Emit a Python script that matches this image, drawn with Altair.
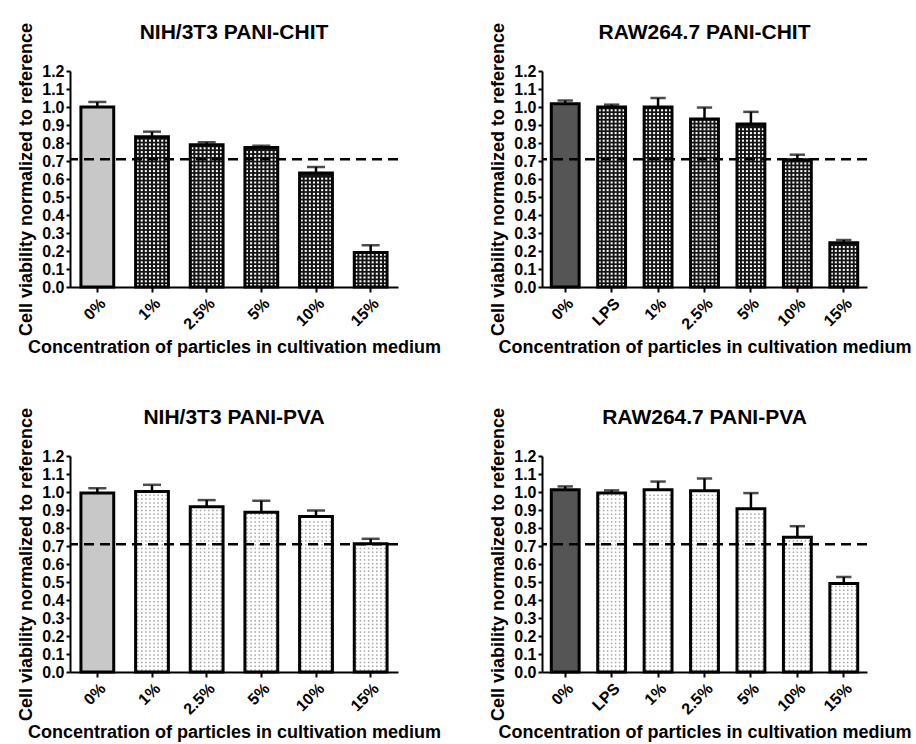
import altair as alt
import pandas as pd

# ---- data: mean viability and upper error (SD) per concentration ----
nih_cats = ["0%", "1%", "2.5%", "5%", "10%", "15%"]
raw_cats = ["0%", "LPS", "1%", "2.5%", "5%", "10%", "15%"]

nih_chit_vals = [1.000, 0.835, 0.790, 0.775, 0.633, 0.192]
nih_chit_err = [0.028, 0.028, 0.014, 0.010, 0.033, 0.040]

raw_chit_vals = [1.018, 1.000, 1.000, 0.934, 0.906, 0.707, 0.246]
raw_chit_err = [0.018, 0.013, 0.050, 0.063, 0.067, 0.028, 0.015]

nih_pva_vals = [0.995, 1.003, 0.918, 0.887, 0.864, 0.712]
nih_pva_err = [0.026, 0.037, 0.037, 0.065, 0.033, 0.028]

raw_pva_vals = [1.012, 0.994, 1.012, 1.007, 0.907, 0.749, 0.491]
raw_pva_err = [0.019, 0.015, 0.046, 0.068, 0.087, 0.061, 0.037]

threshold = 0.71
y_ticks = [round(0.1 * i, 1) for i in range(13)]

FONT = "Liberation Sans"
PAD_INNER = 0.40
HEIGHT = 216

# fill textures: base colour of the bar, colour / size / pitch of the dots
TEXTURES = {
    "checker": dict(base="#141414", dot="#ffffff", size=4.2, pitch=3.8),
    "dots": dict(base="#ffffff", dot="#a6a6a6", size=2.3, pitch=3.8),
}


def texture_frame(cats, vals, texture, width, height):
    """Grid of dots filling every treated (non-0%) bar, in band-index units."""
    t = TEXTURES[texture]
    n = len(cats)
    bw = width / n * (1 - PAD_INNER)
    ncols = max(1, int(bw // t["pitch"]))
    dy = 1.2 / height * t["pitch"]
    rows = []
    for i, (c, v) in enumerate(zip(cats, vals)):
        if c == "0%":
            continue
        k = 0
        while (k + 1) * dy <= v:
            yv = (k + 0.5) * dy
            for j in range(ncols):
                xq = i + PAD_INNER / 2 + (j + 0.5) / ncols * (1 - PAD_INNER)
                rows.append({"xq": xq, "y": yv})
            k += 1
    return pd.DataFrame(rows)


def panel(title, cats, vals, errs, control, texture, width, height=HEIGHT):
    t = TEXTURES[texture]
    n = len(cats)
    bw = width / n * (1 - PAD_INNER)
    df = pd.DataFrame({
        "cat": cats,
        "v": vals,
        "top": [v + e for v, e in zip(vals, errs)],
        "fill": [control if c == "0%" else t["base"] for c in cats],
    })
    tex = texture_frame(cats, vals, texture, width, height)

    xscale = alt.Scale(domain=cats, paddingInner=PAD_INNER, paddingOuter=PAD_INNER / 2)
    yscale = alt.Scale(domain=[0, 1.2], nice=False)
    xaxis = alt.Axis(
        title="Concentration of particles in cultivation medium",
        labelAngle=-45, labelFontSize=16, labelFontWeight="bold", labelFont=FONT,
        labelColor="black", labelPadding=3,
        titleFontSize=18, titleFontWeight="bold", titleFont=FONT, titleColor="black",
        titlePadding=6,
        tickColor="black", tickWidth=2, tickSize=5,
        domainColor="black", domainWidth=2,
    )
    yaxis = alt.Axis(
        title="Cell viability normalized to reference",
        values=y_ticks, format=".1f",
        labelFontSize=16, labelFontWeight="bold", labelFont=FONT, labelColor="black",
        labelPadding=2,
        titleFontSize=18, titleFontWeight="bold", titleFont=FONT, titleColor="black",
        titlePadding=6,
        tickColor="black", tickWidth=2, tickSize=4,
        domainColor="black", domainWidth=2, grid=False,
    )

    # category position; only the base layer draws the x axis
    def xcat(axis=None):
        return alt.X("cat:N", sort=cats, scale=xscale, axis=axis)

    fill = alt.Chart(df).mark_bar(strokeWidth=0).encode(
        x=xcat(xaxis),
        y=alt.Y("v:Q", scale=yscale, axis=yaxis),
        fill=alt.Fill("fill:N", scale=None),
    )

    dots = alt.Chart(tex).mark_square(
        size=t["size"], color=t["dot"], opacity=1, strokeWidth=0
    ).encode(
        x=alt.X("xq:Q", scale=alt.Scale(domain=[0, n], nice=False, zero=False), axis=None),
        y=alt.Y("y:Q", scale=yscale, axis=yaxis),
    )

    outline = alt.Chart(df).mark_bar(
        fillOpacity=0, stroke="black", strokeWidth=3
    ).encode(
        x=xcat(),
        y=alt.Y("v:Q", scale=yscale, axis=yaxis),
    )

    err_line = alt.Chart(df).mark_rule(color="black", strokeWidth=2.5).encode(
        x=xcat(),
        y=alt.Y("v:Q", scale=yscale, axis=yaxis),
        y2="top:Q",
    )
    err_cap = alt.Chart(df).mark_tick(
        color="black", thickness=2.5, size=bw * 0.55, orient="horizontal"
    ).encode(
        x=xcat(),
        y=alt.Y("top:Q", scale=yscale, axis=yaxis),
    )

    rule = alt.Chart(pd.DataFrame({"t": [threshold]})).mark_rule(
        color="black", strokeWidth=2.5, strokeDash=[10, 6]
    ).encode(y=alt.Y("t:Q", scale=yscale, axis=yaxis))

    return alt.layer(
        fill, dots, outline, err_line, err_cap, rule
    ).resolve_scale(x="independent").properties(
        width=width,
        height=height,
        title=alt.TitleParams(
            title, fontSize=21, fontWeight="bold", font=FONT, color="black",
            anchor="middle", offset=-21,
        ),
    )


p1 = panel("NIH/3T3 PANI-CHIT", nih_cats, nih_chit_vals, nih_chit_err,
           "#c8c8c8", "checker", 328)
p2 = panel("RAW264.7 PANI-CHIT", raw_cats, raw_chit_vals, raw_chit_err,
           "#555555", "checker", 325)
p3 = panel("NIH/3T3 PANI-PVA", nih_cats, nih_pva_vals, nih_pva_err,
           "#c8c8c8", "dots", 328)
p4 = panel("RAW264.7 PANI-PVA", raw_cats, raw_pva_vals, raw_pva_err,
           "#555555", "dots", 325)

chart = alt.vconcat(
    alt.hconcat(p1, p2, spacing=48),
    alt.hconcat(p3, p4, spacing=48),
    spacing=50,
).properties(
    padding={"left": 17, "top": 22, "right": 0, "bottom": 0},
    background="white",
).configure_view(strokeWidth=0)

chart.save("out.html", embed_options={"renderer": "svg", "actions": False})
